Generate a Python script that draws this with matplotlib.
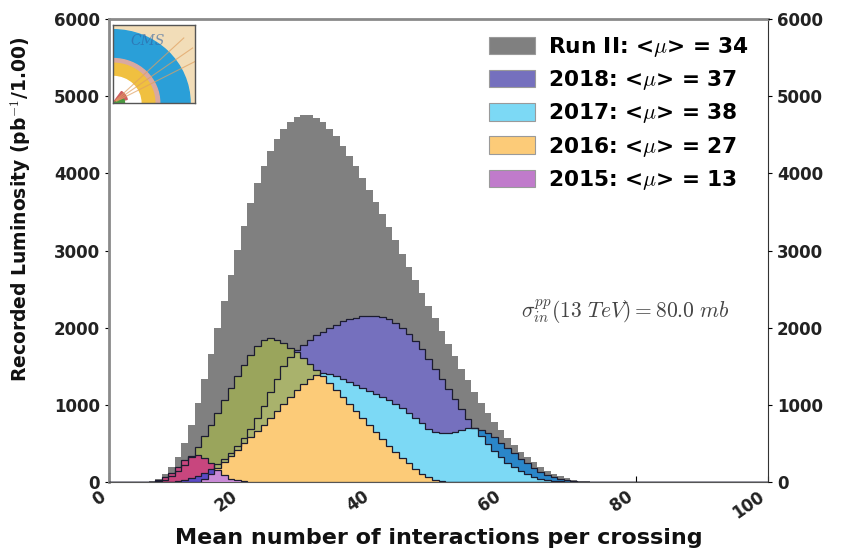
import numpy as np
import matplotlib
matplotlib.use('Agg')
import matplotlib.pyplot as plt
from matplotlib.patches import Patch, Wedge, Rectangle

plt.rcParams['mathtext.fontset'] = 'cm'
plt.rcParams['font.family'] = 'DejaVu Sans'

# Pileup histograms, 1 bin per unit of mu, values in pb^-1 per bin
mu_edges = np.arange(0, 101)


def hist(start, vals):
    arr = np.zeros(100)
    arr[start:start + len(vals)] = vals
    return arr


run2 = hist(5, [5, 18, 45, 100, 190, 320, 500, 740, 1020, 1330,
                1660, 2000, 2340, 2680, 3010, 3320, 3610, 3870, 4100, 4290,
                4450, 4580, 4670, 4730, 4750, 4750, 4720, 4660, 4580, 4480,
                4360, 4230, 4090, 3940, 3790, 3630,
                3470, 3300, 3130, 2960, 2790, 2620, 2450, 2280, 2120, 1960,
                1790, 1630, 1470, 1320, 1170, 1030, 900, 780, 670, 570,
                480, 395, 320, 255, 195, 145, 105, 72, 48, 30,
                17, 9, 4, 2])

y2018 = hist(10, [10, 25, 50, 80, 120, 170, 230, 300, 380, 470,
                  570, 690, 830, 990, 1160, 1340, 1500, 1620, 1710, 1780,
                  1840, 1900, 1950, 2000, 2040, 2080, 2110, 2130, 2145, 2150,
                  2150, 2140, 2110, 2060, 2000, 1920, 1830, 1720, 1600, 1470,
                  1340, 1210, 1080, 950, 820, 700, 590, 490, 400, 320,
                  250, 190, 140, 100, 70, 45, 30, 18, 10, 5])

y2017 = hist(14, [40, 100, 180, 260, 340, 420, 500, 580, 660, 740,
                  830, 920, 1010, 1100, 1190, 1270, 1340, 1390, 1410, 1400,
                  1380, 1340, 1300, 1260, 1220, 1180, 1140, 1100, 1060, 1010,
                  960, 900, 830, 760, 690, 650, 630, 630, 650, 675,
                  695, 700, 680, 640, 580, 510, 440, 370, 300, 240,
                  185, 135, 95, 65, 40, 22, 12, 5])

y2016 = hist(7, [10, 30, 75, 140, 225, 330, 450, 590, 740, 900,
                 1060, 1220, 1380, 1520, 1650, 1760, 1840, 1860, 1840, 1800,
                 1740, 1680, 1610, 1530, 1450, 1370, 1280, 1190, 1100, 1010,
                 920, 830, 740, 650, 560, 470, 390, 310, 240, 170,
                 110, 60, 30, 12, 5])

y2015 = hist(6, [5, 20, 60, 120, 200, 280, 340, 350, 310, 240,
                 160, 90, 45, 20, 8, 3])

labels = ['Run II: <$\\mu$> = 34', '2018: <$\\mu$> = 37', '2017: <$\\mu$> = 38',
          '2016: <$\\mu$> = 27', '2015: <$\\mu$> = 13']
legend_colors = ['#808080', '#7570BE', '#7CD9F5', '#FCCB78', '#C07BCB']

fig = plt.figure(figsize=(8.43, 5.49), dpi=100)
ax = fig.add_axes([109 / 843, 1 - 482 / 549, 659 / 843, 463 / 549])

# base total
ax.stairs(run2, mu_edges, fill=True, color='#808080', zorder=1)

# single-year fills, then the overlaps on top
ax.stairs(y2018, mu_edges, fill=True, color='#7570BE', zorder=2)
ax.stairs(y2016, mu_edges, fill=True, color='#9AA55C', zorder=2)
ax.stairs(y2017, mu_edges, fill=True, color='#2A86C9', zorder=2)
ax.stairs(y2015, mu_edges, fill=True, color='#C8467E', zorder=2)
ax.stairs(np.minimum(y2016, y2018), mu_edges, fill=True, color='#A9B26C', zorder=3)
ax.stairs(np.minimum(y2017, y2018), mu_edges, fill=True, color='#7CD9F5', zorder=3)
ax.stairs(np.minimum(y2016, y2017), mu_edges, fill=True, color='#FCCB78', zorder=4)
ax.stairs(np.minimum(y2015, y2018), mu_edges, fill=True, color='#5B4AC6', zorder=4)
ax.stairs(np.minimum(y2015, y2017), mu_edges, fill=True, color='#C98AD6', zorder=5)

for vals in [y2018, y2017, y2016, y2015]:
    ax.stairs(vals, mu_edges, color='#1c1c30', lw=0.9, zorder=6)

ax.set_xlim(0, 100)
ax.set_ylim(0, 6000)
ax.set_xticks([0, 20, 40, 60, 80, 100])
ax.set_yticks(range(0, 6001, 1000))
for lab in ax.get_xticklabels():
    lab.set_rotation(35)
    lab.set_ha('right')
    lab.set_fontweight('bold')
for lab in ax.get_yticklabels():
    lab.set_fontweight('bold')
ax.tick_params(axis='x', direction='in', length=4, labelsize=12, labelcolor='#222222', pad=4)
ax.tick_params(axis='y', direction='out', length=3, labelsize=12, labelcolor='#222222')

ax.set_xlabel('Mean number of interactions per crossing', fontsize=16,
              fontweight='bold', labelpad=4, color='#111111')
ax.set_ylabel('Recorded Luminosity (pb$^{-1}$/1.00)', fontsize=13.5,
              fontweight='bold', color='#111111')
ax.yaxis.set_label_coords(-0.115, 0.59)

for side in ['left', 'top']:
    ax.spines[side].set_color('#8a8a8a')
    ax.spines[side].set_linewidth(2)
ax.spines['bottom'].set_color('#555555')
ax.spines['right'].set_color('#333333')

axr = ax.twinx()
axr.set_ylim(0, 6000)
axr.set_yticks(range(0, 6001, 1000))
for lab in axr.get_yticklabels():
    lab.set_fontweight('bold')
axr.tick_params(axis='y', direction='out', length=3, labelsize=12, labelcolor='#222222')
for s in axr.spines.values():
    s.set_visible(False)

handles = [Patch(facecolor=c, edgecolor='#9a9a9a', lw=0.8) for c in legend_colors]
ax.legend(handles, labels, loc='upper right', bbox_to_anchor=(1.0, 1.007),
          frameon=False, prop={'weight': 'bold', 'size': 15.6},
          handlelength=2.1, handleheight=0.85, handletextpad=0.6,
          labelspacing=0.42)

ax.text(78.3, 2200, r'$\sigma^{pp}_{in}(13\ TeV) = 80.0\ mb$', ha='center',
        va='center', fontsize=15.5, color='#444444', zorder=7)

# small detector logo in the corner
logo = fig.add_axes([113 / 843, 1 - 103 / 549, 82 / 843, 78 / 549])
logo.set_xlim(0, 1)
logo.set_ylim(0, 1)
logo.add_patch(Rectangle((0, 0), 1, 1, color='#F2DDB8'))
logo.add_patch(Wedge((0, 0), 0.94, 0, 90, width=0.37, color='#2A9FD8'))
logo.add_patch(Wedge((0, 0), 0.57, 0, 90, width=0.06, color='#D9A9A0'))
logo.add_patch(Wedge((0, 0), 0.51, 0, 90, width=0.17, color='#F0C040'))
logo.add_patch(Wedge((0, 0), 0.34, 0, 90, width=0.34, color='white'))
logo.add_patch(Wedge((0, 0), 0.18, 15, 55, color='#D06060'))
logo.add_patch(Wedge((0, 0), 0.14, 0, 20, color='#4A9A40'))
for ang in [28, 36, 44]:
    t = np.radians(ang)
    logo.plot([0.05 * np.cos(t), 1.2 * np.cos(t)], [0.05 * np.sin(t), 1.2 * np.sin(t)],
              color='#E0A060', lw=0.8, alpha=0.7)
logo.text(0.42, 0.8, 'CMS', fontsize=10, color='#3060A0', alpha=0.6,
          ha='center', va='center', family='DejaVu Serif', style='italic')
logo.set_xticks([])
logo.set_yticks([])
for s in logo.spines.values():
    s.set_color('#555555')
    s.set_linewidth(1)

fig.savefig('out.png', dpi=100)
